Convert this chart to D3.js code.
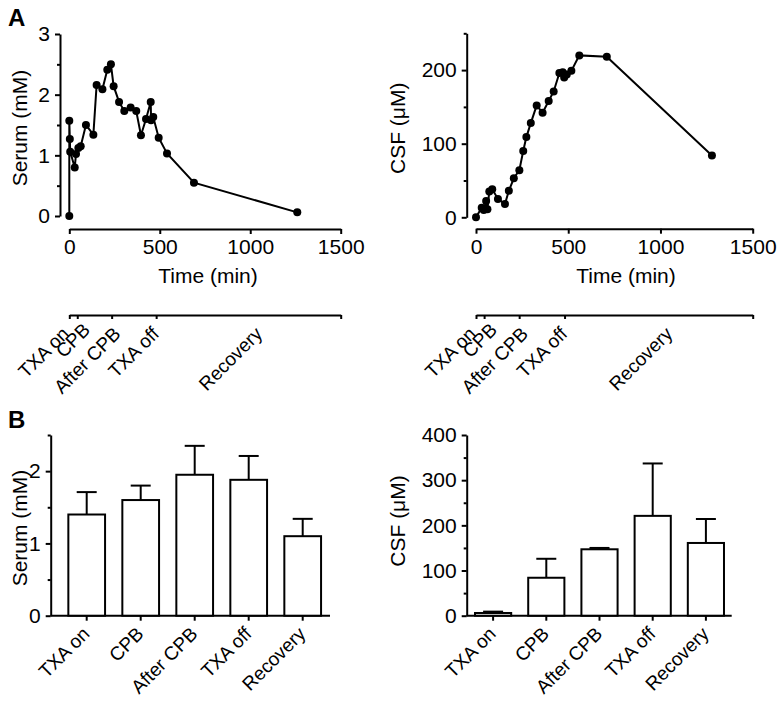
<!DOCTYPE html>
<html><head><meta charset="utf-8">
<script src="https://cdn.jsdelivr.net/npm/d3@7"></script>
<style>
body{margin:0;background:#fff}
svg text{font-family:"Liberation Sans",Arial,Helvetica,sans-serif;fill:#000}
</style>
</head><body>
<svg id="c" width="782" height="701"></svg>
<script>
// ---------- DATA ----------
const serumTime = [0,0,3,5,30,37,50,63,92,133,151,183,210,230,245,275,304,339,370,396,424,450,452,464,494,540,689,1260];
const serumConc = [0,1.57,1.27,1.06,0.80,1.02,1.12,1.15,1.50,1.34,2.16,2.09,2.41,2.50,2.14,1.88,1.73,1.79,1.73,1.33,1.60,1.88,1.58,1.63,1.29,1.03,0.55,0.06];
const csfTime = [0,31,42,55,62,72,88,119,157,178,205,235,256,273,297,329,361,394,421,452,470,478,492,517,560,709,1279];
const csfConc = [0,13,10,22,11,35,38,25,18,36,53,64,90,109,128,152,142,158,171,196,197,190,194,199,220,218,84];
const timeTicks = [0,500,1000,1500];
const serumTicks = [0,1,2,3];
const csfLineTicks = [0,100,200];
const phaseTicks = [0,44,234,480,1500];
const phases = ["TXA on","CPB","After CPB","TXA off","Recovery"];
const serumMean = [1.40,1.60,1.95,1.88,1.10];
const serumErr  = [1.71,1.80,2.35,2.21,1.34];
const csfMean = [6,84,147,221,161];
const csfErr  = [9,126,150,337,214];
const serumBarTicks = [0,1,2];
const csfBarTicks = [0,100,200,300,400];

// ---------- DRAW ----------
const svg = d3.select("#c");
const SW = 2;
const FT = 21;   // tick font
const fmt = d3.format("d");

function styleAxis(g, fs){
  g.selectAll("path,line").attr("stroke","#000").attr("stroke-width",SW);
  g.selectAll("text").attr("font-size",fs);
  return g;
}

function yAxis(x0, y, major, minor){
  svg.append("g").attr("transform",`translate(${x0},0)`)
    .call(d3.axisLeft(y).tickValues(minor).tickSize(3).tickFormat("").tickSizeOuter(0))
    .call(g=>styleAxis(g,FT));
  svg.append("g").attr("transform",`translate(${x0},0)`)
    .call(d3.axisLeft(y).tickValues(major).tickSize(5).tickPadding(5).tickFormat(fmt).tickSizeOuter(0))
    .call(g=>styleAxis(g,FT)).call(g=>g.select(".domain").remove());
}

function lineChart(cfg){
  const x = d3.scaleLinear().domain([0,1500]).range(cfg.xr);
  const y = d3.scaleLinear().domain(cfg.yd).range(cfg.yr);
  yAxis(cfg.yax, y, cfg.major, cfg.minor);
  svg.append("g").attr("transform",`translate(0,${cfg.xay})`)
    .call(d3.axisBottom(x).tickValues(timeTicks).tickSize(5).tickPadding(5).tickFormat(fmt).tickSizeOuter(0))
    .call(g=>styleAxis(g,FT));
  svg.append("text").attr("x",cfg.xtx).attr("y",cfg.xay+54).attr("text-anchor","middle")
    .attr("font-size",21).text("Time (min)");
  svg.append("text").attr("transform",`translate(${cfg.ytx},${(cfg.yr[0]+cfg.yr[1])/2+3}) rotate(-90)`)
    .attr("text-anchor","middle").attr("font-size",21).text(cfg.ylab);
  const pts = cfg.t.map((t,i)=>[t,cfg.v[i]]);
  svg.append("path").datum(pts).attr("fill","none").attr("stroke","#000").attr("stroke-width",2)
    .attr("d", d3.line().x(d=>x(d[0])).y(d=>y(d[1])));
  svg.append("g").selectAll("circle").data(pts).join("circle")
    .attr("cx",d=>x(d[0])).attr("cy",d=>y(d[1])).attr("r",4).attr("fill","#000");
  // phase timeline
  const tl = svg.append("g").attr("transform",`translate(0,${cfg.tly})`);
  tl.call(d3.axisBottom(x).tickValues(phaseTicks).tickSize(4).tickFormat("").tickSizeOuter(0))
    .call(g=>styleAxis(g,19));
  const labX = [x(phaseTicks[0])+1, x(phaseTicks[1])+14, x(phaseTicks[2])+10, x(phaseTicks[3])+4,
                (x(phaseTicks[3])+x(phaseTicks[4]))/2+15];
  tl.selectAll("text.ph").data(phases).join("text").attr("class","ph")
    .attr("transform",(d,i)=>`translate(${labX[i]},${i===1?16:20}) rotate(-45)`)
    .attr("text-anchor","end").attr("font-size",19).text(d=>d);
}

lineChart({xr:[69.3,340.7], yd:[0,3], yr:[216,34], yax:60, xay:229, major:serumTicks, minor:[0.5,1.5,2.5],
  t:serumTime, v:serumConc, ylab:"Serum (mM)", ytx:27, xtx:208, tly:315});
lineChart({xr:[476,752.7], yd:[0,250], yr:[217.3,33.3], yax:466.7, xay:228.7, major:csfLineTicks, minor:[50,150,250],
  t:csfTime, v:csfConc, ylab:"CSF (\u03BCM)", ytx:405, xtx:626, tly:315});

function barChart(cfg){
  const x = d3.scaleBand().domain(phases).range(cfg.xr).paddingInner(0.32).paddingOuter(0.16);
  const y = d3.scaleLinear().domain(cfg.yd).range([615.7,435]);
  yAxis(cfg.yax, y, cfg.major, cfg.minor);
  svg.append("line").attr("x1",cfg.yax).attr("x2",cfg.xend).attr("y1",615.7).attr("y2",615.7)
    .attr("stroke","#000").attr("stroke-width",SW);
  svg.append("g").attr("transform",`translate(0,615.7)`)
    .call(d3.axisBottom(x).tickSize(5).tickFormat("").tickSizeOuter(0))
    .call(g=>styleAxis(g,19)).call(g=>g.select(".domain").remove());
  svg.append("g").selectAll("text").data(phases).join("text")
    .attr("transform",d=>`translate(${x(d)+x.bandwidth()/2+4},${635}) rotate(-45)`)
    .attr("text-anchor","end").attr("font-size",19).text(d=>d);
  const g = svg.append("g");
  g.selectAll("line.err").data(phases).join("line").attr("class","err")
    .attr("x1",d=>x(d)+x.bandwidth()/2).attr("x2",d=>x(d)+x.bandwidth()/2)
    .attr("y1",(d,i)=>y(cfg.mean[i])).attr("y2",(d,i)=>y(cfg.err[i]))
    .attr("stroke","#000").attr("stroke-width",SW);
  g.selectAll("line.cap").data(phases).join("line").attr("class","cap")
    .attr("x1",d=>x(d)+x.bandwidth()/2-10).attr("x2",d=>x(d)+x.bandwidth()/2+10)
    .attr("y1",(d,i)=>y(cfg.err[i])).attr("y2",(d,i)=>y(cfg.err[i]))
    .attr("stroke","#000").attr("stroke-width",SW);
  g.selectAll("rect").data(phases).join("rect")
    .attr("x",d=>x(d)).attr("width",x.bandwidth())
    .attr("y",(d,i)=>y(cfg.mean[i])).attr("height",(d,i)=>615.7-y(cfg.mean[i]))
    .attr("fill","#fff").attr("stroke","#000").attr("stroke-width",SW);
  svg.append("text").attr("transform",`translate(${cfg.ytx},${cfg.ytc}) rotate(-90)`)
    .attr("text-anchor","middle").attr("font-size",21).text(cfg.ylab);
}

barChart({xr:[59.7,329.7], xend:330, yd:[0,2.5], yax:50.7, major:serumBarTicks, minor:[0.5,1.5,2.5],
  mean:serumMean, err:serumErr, ylab:"Serum (mM)", ytx:27, ytc:528});
barChart({xr:[466.5,732.5], xend:731.7, yd:[0,400], yax:466.7, major:csfBarTicks, minor:[50,150,250,350],
  mean:csfMean, err:csfErr, ylab:"CSF (\u03BCM)", ytx:405, ytc:521});

svg.append("text").attr("x",8).attr("y",26).attr("font-size",24).attr("font-weight","bold").text("A");
svg.append("text").attr("x",8).attr("y",428).attr("font-size",24).attr("font-weight","bold").text("B");
</script>
</body></html>
